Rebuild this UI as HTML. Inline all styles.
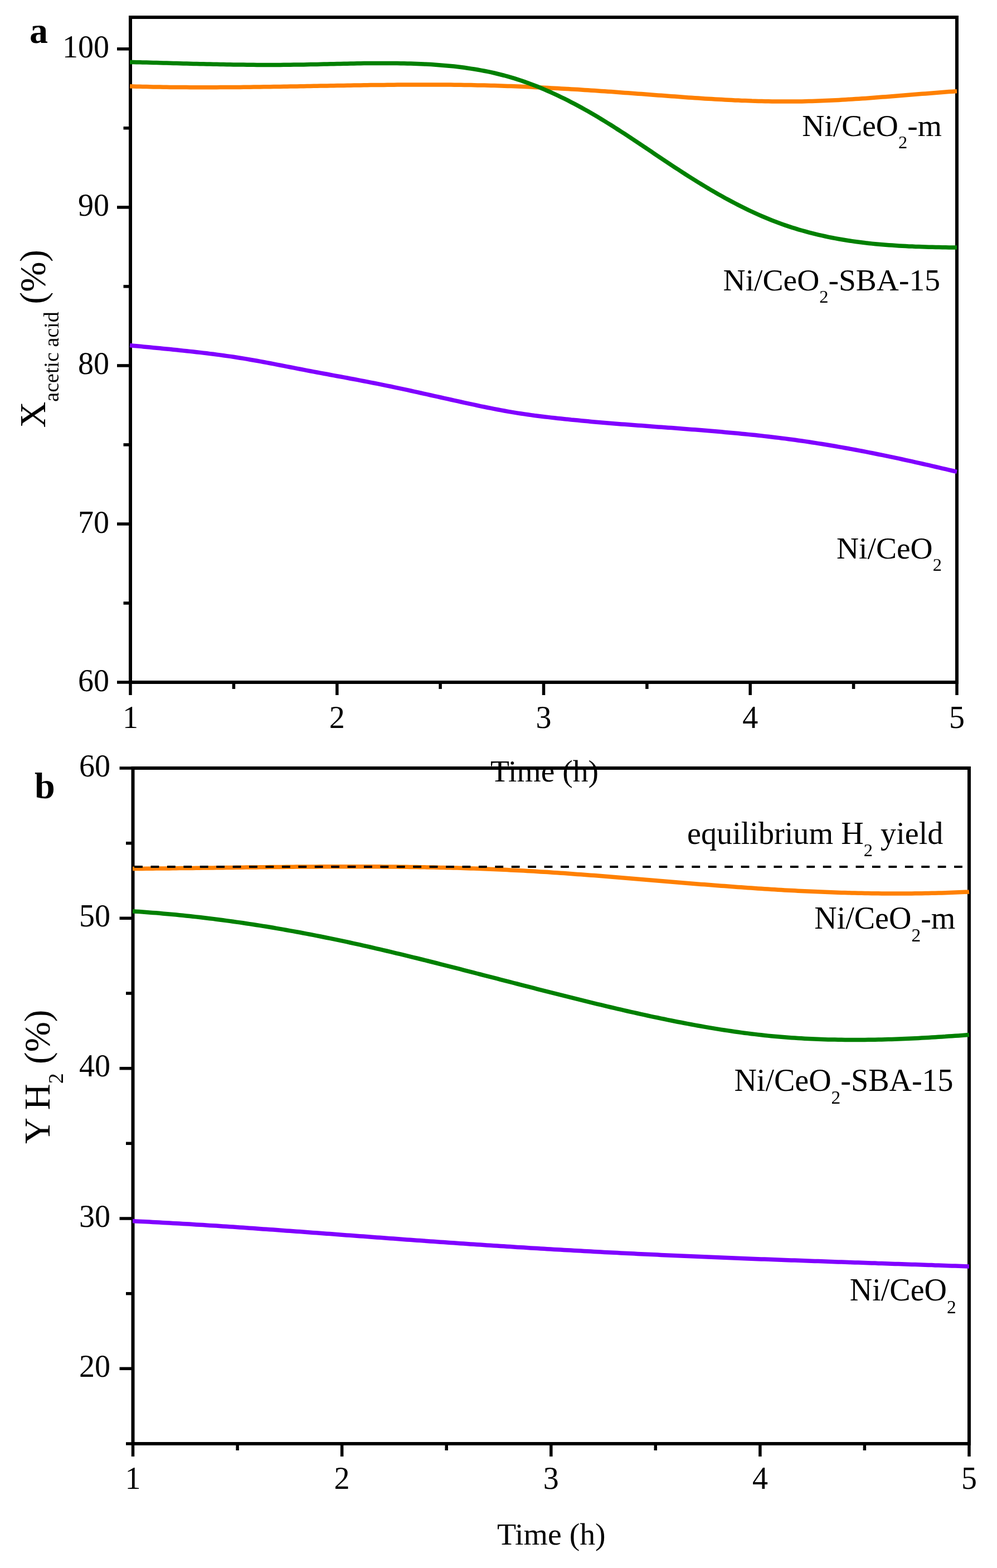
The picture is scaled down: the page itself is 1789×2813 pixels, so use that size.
<!DOCTYPE html>
<html><head><meta charset="utf-8"><title>Figure</title>
<style>html,body{margin:0;padding:0;background:#fff;}svg{display:block;}</style>
</head><body>
<svg width="1789" height="2813" viewBox="0 0 1789 2813" font-family='"Liberation Serif", "Times New Roman", serif'>
<rect width="1789" height="2813" fill="#fff"/>
<rect x="234.0" y="31.0" width="1483.0" height="1193.0" fill="none" stroke="#000" stroke-width="6"/>
<line x1="210.0" y1="1224.0" x2="234.0" y2="1224.0" stroke="#000" stroke-width="5.5"/>
<line x1="210.0" y1="940.0" x2="234.0" y2="940.0" stroke="#000" stroke-width="5.5"/>
<line x1="210.0" y1="655.9" x2="234.0" y2="655.9" stroke="#000" stroke-width="5.5"/>
<line x1="210.0" y1="371.9" x2="234.0" y2="371.9" stroke="#000" stroke-width="5.5"/>
<line x1="210.0" y1="87.8" x2="234.0" y2="87.8" stroke="#000" stroke-width="5.5"/>
<line x1="221.5" y1="1082.0" x2="234.0" y2="1082.0" stroke="#000" stroke-width="5.5"/>
<line x1="221.5" y1="797.9" x2="234.0" y2="797.9" stroke="#000" stroke-width="5.5"/>
<line x1="221.5" y1="513.9" x2="234.0" y2="513.9" stroke="#000" stroke-width="5.5"/>
<line x1="221.5" y1="229.8" x2="234.0" y2="229.8" stroke="#000" stroke-width="5.5"/>
<line x1="234.0" y1="1224.0" x2="234.0" y2="1247.0" stroke="#000" stroke-width="5.5"/>
<line x1="604.8" y1="1224.0" x2="604.8" y2="1247.0" stroke="#000" stroke-width="5.5"/>
<line x1="975.5" y1="1224.0" x2="975.5" y2="1247.0" stroke="#000" stroke-width="5.5"/>
<line x1="1346.2" y1="1224.0" x2="1346.2" y2="1247.0" stroke="#000" stroke-width="5.5"/>
<line x1="1717.0" y1="1224.0" x2="1717.0" y2="1247.0" stroke="#000" stroke-width="5.5"/>
<line x1="419.4" y1="1224.0" x2="419.4" y2="1236.0" stroke="#000" stroke-width="5.5"/>
<line x1="790.1" y1="1224.0" x2="790.1" y2="1236.0" stroke="#000" stroke-width="5.5"/>
<line x1="1160.9" y1="1224.0" x2="1160.9" y2="1236.0" stroke="#000" stroke-width="5.5"/>
<line x1="1531.6" y1="1224.0" x2="1531.6" y2="1236.0" stroke="#000" stroke-width="5.5"/>
<path d="M233.0,154.8 L239.0,155.0 L245.0,155.2 L251.0,155.3 L257.0,155.5 L263.0,155.6 L269.0,155.8 L275.0,155.9 L281.0,156.0 L287.0,156.1 L293.0,156.2 L299.0,156.3 L305.0,156.4 L311.0,156.4 L317.0,156.5 L323.0,156.5 L329.0,156.6 L335.0,156.6 L341.0,156.7 L347.0,156.7 L353.0,156.7 L359.0,156.7 L365.0,156.7 L371.0,156.7 L377.0,156.7 L383.0,156.7 L389.0,156.7 L395.0,156.6 L401.0,156.6 L407.0,156.6 L413.0,156.5 L419.0,156.5 L425.0,156.4 L431.0,156.4 L437.0,156.3 L443.0,156.2 L449.0,156.2 L455.0,156.1 L461.0,156.0 L467.0,155.9 L473.0,155.8 L479.0,155.8 L485.0,155.7 L491.0,155.6 L497.0,155.5 L503.0,155.4 L509.0,155.3 L515.0,155.2 L521.0,155.1 L527.0,155.0 L533.0,154.9 L539.0,154.8 L545.0,154.7 L551.0,154.6 L557.0,154.4 L563.0,154.3 L569.0,154.2 L575.0,154.1 L581.0,154.0 L587.0,153.9 L593.0,153.8 L599.0,153.7 L605.0,153.6 L611.0,153.5 L617.0,153.4 L623.0,153.3 L629.0,153.2 L635.0,153.1 L641.0,153.0 L647.0,152.9 L653.0,152.8 L659.0,152.7 L665.0,152.6 L671.0,152.6 L677.0,152.5 L683.0,152.4 L689.0,152.4 L695.0,152.3 L701.0,152.2 L707.0,152.2 L713.0,152.1 L719.0,152.1 L725.0,152.0 L731.0,152.0 L737.0,152.0 L743.0,152.0 L749.0,151.9 L755.0,151.9 L761.0,151.9 L767.0,151.9 L773.0,151.9 L779.0,151.9 L785.0,152.0 L791.0,152.0 L797.0,152.0 L803.0,152.1 L809.0,152.1 L815.0,152.2 L821.0,152.3 L827.0,152.3 L833.0,152.4 L839.0,152.5 L845.0,152.6 L851.0,152.7 L857.0,152.9 L863.0,153.0 L869.0,153.1 L875.0,153.3 L881.0,153.4 L887.0,153.6 L893.0,153.8 L899.0,154.0 L905.0,154.2 L911.0,154.4 L917.0,154.6 L923.0,154.8 L929.0,155.1 L935.0,155.3 L941.0,155.6 L947.0,155.8 L953.0,156.1 L959.0,156.4 L965.0,156.7 L971.0,157.0 L977.0,157.3 L983.0,157.6 L989.0,157.9 L995.0,158.2 L1001.0,158.5 L1007.0,158.9 L1013.0,159.2 L1019.0,159.6 L1025.0,159.9 L1031.0,160.3 L1037.0,160.6 L1043.0,161.0 L1049.0,161.4 L1055.0,161.8 L1061.0,162.2 L1067.0,162.6 L1073.0,163.0 L1079.0,163.4 L1085.0,163.8 L1091.0,164.2 L1097.0,164.6 L1103.0,165.1 L1109.0,165.5 L1115.0,165.9 L1121.0,166.4 L1127.0,166.8 L1133.0,167.2 L1139.0,167.7 L1145.0,168.2 L1151.0,168.6 L1157.0,169.1 L1163.0,169.5 L1169.0,170.0 L1175.0,170.4 L1181.0,170.9 L1187.0,171.3 L1193.0,171.8 L1199.0,172.2 L1205.0,172.7 L1211.0,173.1 L1217.0,173.6 L1223.0,174.0 L1229.0,174.4 L1235.0,174.9 L1241.0,175.3 L1247.0,175.7 L1253.0,176.1 L1259.0,176.5 L1265.0,176.9 L1271.0,177.2 L1277.0,177.6 L1283.0,178.0 L1289.0,178.3 L1295.0,178.6 L1301.0,179.0 L1307.0,179.3 L1313.0,179.6 L1319.0,179.9 L1325.0,180.1 L1331.0,180.4 L1337.0,180.6 L1343.0,180.8 L1349.0,181.1 L1355.0,181.2 L1361.0,181.4 L1367.0,181.6 L1373.0,181.7 L1379.0,181.8 L1385.0,181.9 L1391.0,182.0 L1397.0,182.1 L1403.0,182.1 L1409.0,182.1 L1415.0,182.1 L1421.0,182.1 L1427.0,182.0 L1433.0,182.0 L1439.0,181.9 L1445.0,181.7 L1451.0,181.6 L1457.0,181.4 L1463.0,181.2 L1469.0,181.0 L1475.0,180.8 L1481.0,180.5 L1487.0,180.3 L1493.0,180.0 L1499.0,179.7 L1505.0,179.4 L1511.0,179.0 L1517.0,178.7 L1523.0,178.3 L1529.0,178.0 L1535.0,177.6 L1541.0,177.2 L1547.0,176.8 L1553.0,176.4 L1559.0,175.9 L1565.0,175.5 L1571.0,175.0 L1577.0,174.6 L1583.0,174.1 L1589.0,173.7 L1595.0,173.2 L1601.0,172.7 L1607.0,172.2 L1613.0,171.8 L1619.0,171.3 L1625.0,170.8 L1631.0,170.3 L1637.0,169.8 L1643.0,169.3 L1649.0,168.8 L1655.0,168.3 L1661.0,167.9 L1667.0,167.4 L1673.0,166.9 L1679.0,166.4 L1685.0,166.0 L1691.0,165.5 L1697.0,165.1 L1703.0,164.6 L1709.0,164.2 L1715.0,163.8 L1717.0,163.6" fill="none" stroke="#ff8000" stroke-width="7.5" stroke-linejoin="round"/>
<path d="M233.0,111.4 L239.0,111.5 L245.0,111.7 L251.0,111.8 L257.0,112.0 L263.0,112.1 L269.0,112.3 L275.0,112.4 L281.0,112.6 L287.0,112.8 L293.0,112.9 L299.0,113.1 L305.0,113.2 L311.0,113.4 L317.0,113.6 L323.0,113.7 L329.0,113.9 L335.0,114.0 L341.0,114.2 L347.0,114.4 L353.0,114.5 L359.0,114.7 L365.0,114.8 L371.0,114.9 L377.0,115.1 L383.0,115.2 L389.0,115.3 L395.0,115.5 L401.0,115.6 L407.0,115.7 L413.0,115.8 L419.0,115.9 L425.0,116.0 L431.0,116.1 L437.0,116.1 L443.0,116.2 L449.0,116.3 L455.0,116.3 L461.0,116.4 L467.0,116.4 L473.0,116.4 L479.0,116.4 L485.0,116.4 L491.0,116.4 L497.0,116.4 L503.0,116.4 L509.0,116.3 L515.0,116.3 L521.0,116.2 L527.0,116.1 L533.0,116.1 L539.0,116.0 L545.0,115.9 L551.0,115.7 L557.0,115.6 L563.0,115.5 L569.0,115.4 L575.0,115.2 L581.0,115.1 L587.0,115.0 L593.0,114.8 L599.0,114.7 L605.0,114.5 L611.0,114.4 L617.0,114.3 L623.0,114.2 L629.0,114.0 L635.0,113.9 L641.0,113.8 L647.0,113.7 L653.0,113.6 L659.0,113.6 L665.0,113.5 L671.0,113.5 L677.0,113.4 L683.0,113.4 L689.0,113.4 L695.0,113.4 L701.0,113.4 L707.0,113.5 L713.0,113.6 L719.0,113.7 L725.0,113.8 L731.0,113.9 L737.0,114.1 L743.0,114.3 L749.0,114.5 L755.0,114.7 L761.0,115.0 L767.0,115.3 L773.0,115.6 L779.0,116.0 L785.0,116.4 L791.0,116.9 L797.0,117.4 L803.0,117.9 L809.0,118.5 L815.0,119.1 L821.0,119.8 L827.0,120.5 L833.0,121.3 L839.0,122.2 L845.0,123.1 L851.0,124.0 L857.0,125.0 L863.0,126.1 L869.0,127.2 L875.0,128.4 L881.0,129.7 L887.0,131.0 L893.0,132.5 L899.0,134.0 L905.0,135.5 L911.0,137.2 L917.0,138.9 L923.0,140.7 L929.0,142.6 L935.0,144.5 L941.0,146.6 L947.0,148.7 L953.0,150.9 L959.0,153.2 L965.0,155.6 L971.0,158.0 L977.0,160.6 L983.0,163.2 L989.0,165.8 L995.0,168.6 L1001.0,171.4 L1007.0,174.3 L1013.0,177.2 L1019.0,180.2 L1025.0,183.3 L1031.0,186.4 L1037.0,189.6 L1043.0,192.9 L1049.0,196.2 L1055.0,199.6 L1061.0,203.1 L1067.0,206.6 L1073.0,210.1 L1079.0,213.7 L1085.0,217.4 L1091.0,221.1 L1097.0,224.8 L1103.0,228.6 L1109.0,232.5 L1115.0,236.3 L1121.0,240.2 L1127.0,244.2 L1133.0,248.1 L1139.0,252.1 L1145.0,256.1 L1151.0,260.1 L1157.0,264.2 L1163.0,268.2 L1169.0,272.2 L1175.0,276.3 L1181.0,280.3 L1187.0,284.3 L1193.0,288.3 L1199.0,292.3 L1205.0,296.3 L1211.0,300.3 L1217.0,304.2 L1223.0,308.1 L1229.0,312.0 L1235.0,315.9 L1241.0,319.7 L1247.0,323.4 L1253.0,327.1 L1259.0,330.8 L1265.0,334.4 L1271.0,338.0 L1277.0,341.6 L1283.0,345.0 L1289.0,348.5 L1295.0,351.8 L1301.0,355.2 L1307.0,358.4 L1313.0,361.6 L1319.0,364.8 L1325.0,367.9 L1331.0,370.9 L1337.0,373.9 L1343.0,376.8 L1349.0,379.6 L1355.0,382.4 L1361.0,385.1 L1367.0,387.7 L1373.0,390.3 L1379.0,392.8 L1385.0,395.2 L1391.0,397.5 L1397.0,399.8 L1403.0,402.0 L1409.0,404.1 L1415.0,406.1 L1421.0,408.1 L1427.0,409.9 L1433.0,411.8 L1439.0,413.5 L1445.0,415.2 L1451.0,416.8 L1457.0,418.4 L1463.0,419.9 L1469.0,421.3 L1475.0,422.7 L1481.0,424.0 L1487.0,425.3 L1493.0,426.5 L1499.0,427.6 L1505.0,428.7 L1511.0,429.8 L1517.0,430.8 L1523.0,431.7 L1529.0,432.6 L1535.0,433.5 L1541.0,434.3 L1547.0,435.0 L1553.0,435.8 L1559.0,436.4 L1565.0,437.1 L1571.0,437.7 L1577.0,438.2 L1583.0,438.8 L1589.0,439.3 L1595.0,439.7 L1601.0,440.1 L1607.0,440.5 L1613.0,440.9 L1619.0,441.3 L1625.0,441.6 L1631.0,441.9 L1637.0,442.1 L1643.0,442.4 L1649.0,442.6 L1655.0,442.8 L1661.0,443.0 L1667.0,443.2 L1673.0,443.3 L1679.0,443.5 L1685.0,443.6 L1691.0,443.7 L1697.0,443.8 L1703.0,443.9 L1709.0,444.0 L1715.0,444.1 L1717.0,444.1" fill="none" stroke="#008000" stroke-width="7.5" stroke-linejoin="round"/>
<path d="M233.0,619.6 L239.0,620.2 L245.0,620.8 L251.0,621.3 L257.0,621.9 L263.0,622.5 L269.0,623.1 L275.0,623.7 L281.0,624.2 L287.0,624.8 L293.0,625.4 L299.0,626.0 L305.0,626.6 L311.0,627.2 L317.0,627.8 L323.0,628.4 L329.0,629.1 L335.0,629.7 L341.0,630.4 L347.0,631.0 L353.0,631.7 L359.0,632.4 L365.0,633.1 L371.0,633.8 L377.0,634.6 L383.0,635.3 L389.0,636.1 L395.0,636.9 L401.0,637.7 L407.0,638.6 L413.0,639.4 L419.0,640.3 L425.0,641.2 L431.0,642.2 L437.0,643.1 L443.0,644.1 L449.0,645.2 L455.0,646.2 L461.0,647.3 L467.0,648.4 L473.0,649.5 L479.0,650.6 L485.0,651.8 L491.0,652.9 L497.0,654.1 L503.0,655.2 L509.0,656.4 L515.0,657.6 L521.0,658.8 L527.0,659.9 L533.0,661.1 L539.0,662.3 L545.0,663.4 L551.0,664.6 L557.0,665.7 L563.0,666.9 L569.0,668.0 L575.0,669.1 L581.0,670.2 L587.0,671.3 L593.0,672.5 L599.0,673.6 L605.0,674.7 L611.0,675.8 L617.0,676.9 L623.0,678.0 L629.0,679.2 L635.0,680.3 L641.0,681.4 L647.0,682.6 L653.0,683.7 L659.0,684.9 L665.0,686.1 L671.0,687.2 L677.0,688.4 L683.0,689.6 L689.0,690.9 L695.0,692.1 L701.0,693.3 L707.0,694.6 L713.0,695.9 L719.0,697.1 L725.0,698.4 L731.0,699.7 L737.0,701.0 L743.0,702.3 L749.0,703.6 L755.0,705.0 L761.0,706.3 L767.0,707.6 L773.0,709.0 L779.0,710.3 L785.0,711.6 L791.0,713.0 L797.0,714.3 L803.0,715.7 L809.0,717.0 L815.0,718.3 L821.0,719.7 L827.0,721.0 L833.0,722.3 L839.0,723.6 L845.0,724.9 L851.0,726.2 L857.0,727.5 L863.0,728.8 L869.0,730.0 L875.0,731.2 L881.0,732.4 L887.0,733.6 L893.0,734.8 L899.0,735.9 L905.0,737.0 L911.0,738.1 L917.0,739.1 L923.0,740.1 L929.0,741.1 L935.0,742.0 L941.0,742.9 L947.0,743.8 L953.0,744.6 L959.0,745.5 L965.0,746.2 L971.0,747.0 L977.0,747.7 L983.0,748.4 L989.0,749.1 L995.0,749.8 L1001.0,750.5 L1007.0,751.1 L1013.0,751.7 L1019.0,752.3 L1025.0,753.0 L1031.0,753.5 L1037.0,754.1 L1043.0,754.7 L1049.0,755.3 L1055.0,755.8 L1061.0,756.4 L1067.0,756.9 L1073.0,757.4 L1079.0,757.9 L1085.0,758.4 L1091.0,758.9 L1097.0,759.4 L1103.0,759.9 L1109.0,760.4 L1115.0,760.9 L1121.0,761.3 L1127.0,761.8 L1133.0,762.3 L1139.0,762.7 L1145.0,763.2 L1151.0,763.6 L1157.0,764.1 L1163.0,764.5 L1169.0,765.0 L1175.0,765.4 L1181.0,765.9 L1187.0,766.3 L1193.0,766.7 L1199.0,767.2 L1205.0,767.6 L1211.0,768.1 L1217.0,768.5 L1223.0,769.0 L1229.0,769.5 L1235.0,769.9 L1241.0,770.4 L1247.0,770.8 L1253.0,771.3 L1259.0,771.8 L1265.0,772.3 L1271.0,772.8 L1277.0,773.3 L1283.0,773.8 L1289.0,774.3 L1295.0,774.8 L1301.0,775.4 L1307.0,775.9 L1313.0,776.4 L1319.0,777.0 L1325.0,777.6 L1331.0,778.2 L1337.0,778.7 L1343.0,779.4 L1349.0,780.0 L1355.0,780.6 L1361.0,781.2 L1367.0,781.9 L1373.0,782.6 L1379.0,783.3 L1385.0,784.0 L1391.0,784.7 L1397.0,785.4 L1403.0,786.2 L1409.0,786.9 L1415.0,787.7 L1421.0,788.5 L1427.0,789.3 L1433.0,790.2 L1439.0,791.0 L1445.0,791.9 L1451.0,792.8 L1457.0,793.7 L1463.0,794.6 L1469.0,795.6 L1475.0,796.5 L1481.0,797.5 L1487.0,798.5 L1493.0,799.5 L1499.0,800.5 L1505.0,801.6 L1511.0,802.6 L1517.0,803.7 L1523.0,804.8 L1529.0,805.9 L1535.0,807.0 L1541.0,808.1 L1547.0,809.3 L1553.0,810.4 L1559.0,811.6 L1565.0,812.8 L1571.0,814.0 L1577.0,815.2 L1583.0,816.4 L1589.0,817.7 L1595.0,818.9 L1601.0,820.2 L1607.0,821.4 L1613.0,822.7 L1619.0,824.0 L1625.0,825.3 L1631.0,826.6 L1637.0,827.9 L1643.0,829.3 L1649.0,830.6 L1655.0,832.0 L1661.0,833.3 L1667.0,834.7 L1673.0,836.1 L1679.0,837.5 L1685.0,838.9 L1691.0,840.3 L1697.0,841.7 L1703.0,843.1 L1709.0,844.5 L1715.0,845.9 L1717.0,846.4" fill="none" stroke="#8000ff" stroke-width="7.5" stroke-linejoin="round"/>
<text x="196.0" y="1239.5" font-size="56.0" text-anchor="end" font-weight="normal">60</text>
<text x="196.0" y="955.5" font-size="56.0" text-anchor="end" font-weight="normal">70</text>
<text x="196.0" y="671.4" font-size="56.0" text-anchor="end" font-weight="normal">80</text>
<text x="196.0" y="387.4" font-size="56.0" text-anchor="end" font-weight="normal">90</text>
<text x="196.0" y="103.3" font-size="56.0" text-anchor="end" font-weight="normal">100</text>
<text x="234.0" y="1305.5" font-size="56.0" text-anchor="middle" font-weight="normal">1</text>
<text x="604.8" y="1305.5" font-size="56.0" text-anchor="middle" font-weight="normal">2</text>
<text x="975.5" y="1305.5" font-size="56.0" text-anchor="middle" font-weight="normal">3</text>
<text x="1346.2" y="1305.5" font-size="56.0" text-anchor="middle" font-weight="normal">4</text>
<text x="1717.0" y="1305.5" font-size="56.0" text-anchor="middle" font-weight="normal">5</text>
<text x="53.0" y="77.0" font-size="66.0" text-anchor="start" font-weight="bold">a</text>
<text x="977.0" y="1402.0" font-size="55.5" text-anchor="middle" font-weight="normal">Time (h)</text>
<text transform="translate(81,767.6) rotate(-90)" font-size="65">X<tspan font-size="38" dy="24">acetic acid</tspan><tspan dy="-24" dx="-2.4"> (%)</tspan></text>
<text x="1439.3" y="244.0" font-size="55.5">Ni/CeO<tspan font-size="32.5" dy="21.5">2</tspan><tspan dy="-21.5">-m</tspan></text>
<text x="1297.6" y="521.0" font-size="55.5">Ni/CeO<tspan font-size="32.5" dy="21.5">2</tspan><tspan dy="-21.5">-SBA-15</tspan></text>
<text x="1501.0" y="1002.0" font-size="55.5">Ni/CeO<tspan font-size="32.5" dy="21.5">2</tspan></text>
<rect x="238.5" y="1378.0" width="1500.5" height="1212.0" fill="none" stroke="#000" stroke-width="6"/>
<line x1="214.5" y1="2455.3" x2="238.5" y2="2455.3" stroke="#000" stroke-width="5.5"/>
<line x1="214.5" y1="2186.0" x2="238.5" y2="2186.0" stroke="#000" stroke-width="5.5"/>
<line x1="214.5" y1="1916.7" x2="238.5" y2="1916.7" stroke="#000" stroke-width="5.5"/>
<line x1="214.5" y1="1647.3" x2="238.5" y2="1647.3" stroke="#000" stroke-width="5.5"/>
<line x1="214.5" y1="1378.0" x2="238.5" y2="1378.0" stroke="#000" stroke-width="5.5"/>
<line x1="226.0" y1="2590.0" x2="238.5" y2="2590.0" stroke="#000" stroke-width="5.5"/>
<line x1="226.0" y1="2320.7" x2="238.5" y2="2320.7" stroke="#000" stroke-width="5.5"/>
<line x1="226.0" y1="2051.3" x2="238.5" y2="2051.3" stroke="#000" stroke-width="5.5"/>
<line x1="226.0" y1="1782.0" x2="238.5" y2="1782.0" stroke="#000" stroke-width="5.5"/>
<line x1="226.0" y1="1512.7" x2="238.5" y2="1512.7" stroke="#000" stroke-width="5.5"/>
<line x1="238.5" y1="2590.0" x2="238.5" y2="2613.0" stroke="#000" stroke-width="5.5"/>
<line x1="613.6" y1="2590.0" x2="613.6" y2="2613.0" stroke="#000" stroke-width="5.5"/>
<line x1="988.8" y1="2590.0" x2="988.8" y2="2613.0" stroke="#000" stroke-width="5.5"/>
<line x1="1363.9" y1="2590.0" x2="1363.9" y2="2613.0" stroke="#000" stroke-width="5.5"/>
<line x1="1739.0" y1="2590.0" x2="1739.0" y2="2613.0" stroke="#000" stroke-width="5.5"/>
<line x1="426.1" y1="2590.0" x2="426.1" y2="2602.0" stroke="#000" stroke-width="5.5"/>
<line x1="801.2" y1="2590.0" x2="801.2" y2="2602.0" stroke="#000" stroke-width="5.5"/>
<line x1="1176.3" y1="2590.0" x2="1176.3" y2="2602.0" stroke="#000" stroke-width="5.5"/>
<line x1="1551.4" y1="2590.0" x2="1551.4" y2="2602.0" stroke="#000" stroke-width="5.5"/>
<path d="M238.0,1558.5 L244.0,1558.5 L250.0,1558.4 L256.0,1558.4 L262.0,1558.3 L268.0,1558.2 L274.0,1558.2 L280.0,1558.1 L286.0,1558.1 L292.0,1558.0 L298.0,1557.9 L304.0,1557.9 L310.0,1557.8 L316.0,1557.7 L322.0,1557.6 L328.0,1557.6 L334.0,1557.5 L340.0,1557.4 L346.0,1557.4 L352.0,1557.3 L358.0,1557.2 L364.0,1557.1 L370.0,1557.0 L376.0,1557.0 L382.0,1556.9 L388.0,1556.8 L394.0,1556.7 L400.0,1556.7 L406.0,1556.6 L412.0,1556.5 L418.0,1556.4 L424.0,1556.3 L430.0,1556.3 L436.0,1556.2 L442.0,1556.1 L448.0,1556.0 L454.0,1556.0 L460.0,1555.9 L466.0,1555.8 L472.0,1555.8 L478.0,1555.7 L484.0,1555.6 L490.0,1555.6 L496.0,1555.5 L502.0,1555.4 L508.0,1555.4 L514.0,1555.3 L520.0,1555.2 L526.0,1555.2 L532.0,1555.1 L538.0,1555.1 L544.0,1555.0 L550.0,1555.0 L556.0,1555.0 L562.0,1554.9 L568.0,1554.9 L574.0,1554.8 L580.0,1554.8 L586.0,1554.8 L592.0,1554.8 L598.0,1554.7 L604.0,1554.7 L610.0,1554.7 L616.0,1554.7 L622.0,1554.7 L628.0,1554.7 L634.0,1554.7 L640.0,1554.7 L646.0,1554.7 L652.0,1554.7 L658.0,1554.7 L664.0,1554.8 L670.0,1554.8 L676.0,1554.8 L682.0,1554.8 L688.0,1554.9 L694.0,1554.9 L700.0,1555.0 L706.0,1555.0 L712.0,1555.1 L718.0,1555.2 L724.0,1555.2 L730.0,1555.3 L736.0,1555.4 L742.0,1555.5 L748.0,1555.6 L754.0,1555.7 L760.0,1555.8 L766.0,1555.9 L772.0,1556.0 L778.0,1556.1 L784.0,1556.2 L790.0,1556.4 L796.0,1556.5 L802.0,1556.7 L808.0,1556.8 L814.0,1557.0 L820.0,1557.1 L826.0,1557.3 L832.0,1557.5 L838.0,1557.7 L844.0,1557.9 L850.0,1558.1 L856.0,1558.3 L862.0,1558.5 L868.0,1558.8 L874.0,1559.0 L880.0,1559.2 L886.0,1559.5 L892.0,1559.7 L898.0,1560.0 L904.0,1560.3 L910.0,1560.6 L916.0,1560.9 L922.0,1561.2 L928.0,1561.5 L934.0,1561.8 L940.0,1562.1 L946.0,1562.4 L952.0,1562.8 L958.0,1563.1 L964.0,1563.5 L970.0,1563.9 L976.0,1564.2 L982.0,1564.6 L988.0,1565.0 L994.0,1565.4 L1000.0,1565.8 L1006.0,1566.2 L1012.0,1566.6 L1018.0,1567.1 L1024.0,1567.5 L1030.0,1567.9 L1036.0,1568.4 L1042.0,1568.8 L1048.0,1569.3 L1054.0,1569.7 L1060.0,1570.2 L1066.0,1570.6 L1072.0,1571.1 L1078.0,1571.6 L1084.0,1572.0 L1090.0,1572.5 L1096.0,1573.0 L1102.0,1573.5 L1108.0,1574.0 L1114.0,1574.5 L1120.0,1574.9 L1126.0,1575.4 L1132.0,1575.9 L1138.0,1576.4 L1144.0,1576.9 L1150.0,1577.4 L1156.0,1577.9 L1162.0,1578.4 L1168.0,1578.9 L1174.0,1579.4 L1180.0,1579.9 L1186.0,1580.4 L1192.0,1580.9 L1198.0,1581.4 L1204.0,1581.9 L1210.0,1582.4 L1216.0,1582.9 L1222.0,1583.4 L1228.0,1583.9 L1234.0,1584.4 L1240.0,1584.9 L1246.0,1585.4 L1252.0,1585.9 L1258.0,1586.4 L1264.0,1586.8 L1270.0,1587.3 L1276.0,1587.8 L1282.0,1588.2 L1288.0,1588.7 L1294.0,1589.2 L1300.0,1589.6 L1306.0,1590.1 L1312.0,1590.5 L1318.0,1591.0 L1324.0,1591.4 L1330.0,1591.8 L1336.0,1592.3 L1342.0,1592.7 L1348.0,1593.1 L1354.0,1593.5 L1360.0,1593.9 L1366.0,1594.3 L1372.0,1594.7 L1378.0,1595.1 L1384.0,1595.4 L1390.0,1595.8 L1396.0,1596.2 L1402.0,1596.5 L1408.0,1596.9 L1414.0,1597.2 L1420.0,1597.5 L1426.0,1597.8 L1432.0,1598.2 L1438.0,1598.5 L1444.0,1598.7 L1450.0,1599.0 L1456.0,1599.3 L1462.0,1599.6 L1468.0,1599.8 L1474.0,1600.1 L1480.0,1600.3 L1486.0,1600.6 L1492.0,1600.8 L1498.0,1601.0 L1504.0,1601.2 L1510.0,1601.4 L1516.0,1601.6 L1522.0,1601.7 L1528.0,1601.9 L1534.0,1602.1 L1540.0,1602.2 L1546.0,1602.3 L1552.0,1602.5 L1558.0,1602.6 L1564.0,1602.7 L1570.0,1602.7 L1576.0,1602.8 L1582.0,1602.9 L1588.0,1602.9 L1594.0,1603.0 L1600.0,1603.0 L1606.0,1603.0 L1612.0,1603.0 L1618.0,1603.0 L1624.0,1603.0 L1630.0,1602.9 L1636.0,1602.9 L1642.0,1602.8 L1648.0,1602.8 L1654.0,1602.7 L1660.0,1602.6 L1666.0,1602.5 L1672.0,1602.3 L1678.0,1602.2 L1684.0,1602.0 L1690.0,1601.9 L1696.0,1601.7 L1702.0,1601.5 L1708.0,1601.3 L1714.0,1601.1 L1720.0,1600.8 L1726.0,1600.6 L1732.0,1600.3 L1738.0,1600.0 L1739.0,1599.9" fill="none" stroke="#ff8000" stroke-width="7.5" stroke-linejoin="round"/>
<path d="M238.0,1634.8 L244.0,1635.2 L250.0,1635.6 L256.0,1636.0 L262.0,1636.4 L268.0,1636.9 L274.0,1637.4 L280.0,1637.8 L286.0,1638.3 L292.0,1638.9 L298.0,1639.4 L304.0,1639.9 L310.0,1640.5 L316.0,1641.1 L322.0,1641.7 L328.0,1642.3 L334.0,1642.9 L340.0,1643.5 L346.0,1644.2 L352.0,1644.9 L358.0,1645.5 L364.0,1646.2 L370.0,1647.0 L376.0,1647.7 L382.0,1648.4 L388.0,1649.2 L394.0,1650.0 L400.0,1650.8 L406.0,1651.6 L412.0,1652.4 L418.0,1653.2 L424.0,1654.1 L430.0,1654.9 L436.0,1655.8 L442.0,1656.7 L448.0,1657.6 L454.0,1658.5 L460.0,1659.5 L466.0,1660.4 L472.0,1661.4 L478.0,1662.3 L484.0,1663.3 L490.0,1664.3 L496.0,1665.4 L502.0,1666.4 L508.0,1667.4 L514.0,1668.5 L520.0,1669.6 L526.0,1670.6 L532.0,1671.7 L538.0,1672.8 L544.0,1674.0 L550.0,1675.1 L556.0,1676.2 L562.0,1677.4 L568.0,1678.6 L574.0,1679.8 L580.0,1681.0 L586.0,1682.2 L592.0,1683.4 L598.0,1684.6 L604.0,1685.9 L610.0,1687.1 L616.0,1688.4 L622.0,1689.7 L628.0,1691.0 L634.0,1692.3 L640.0,1693.6 L646.0,1694.9 L652.0,1696.3 L658.0,1697.6 L664.0,1699.0 L670.0,1700.4 L676.0,1701.8 L682.0,1703.2 L688.0,1704.6 L694.0,1706.0 L700.0,1707.4 L706.0,1708.8 L712.0,1710.3 L718.0,1711.7 L724.0,1713.2 L730.0,1714.6 L736.0,1716.1 L742.0,1717.6 L748.0,1719.0 L754.0,1720.5 L760.0,1722.0 L766.0,1723.5 L772.0,1725.0 L778.0,1726.5 L784.0,1728.0 L790.0,1729.6 L796.0,1731.1 L802.0,1732.6 L808.0,1734.1 L814.0,1735.7 L820.0,1737.2 L826.0,1738.7 L832.0,1740.3 L838.0,1741.8 L844.0,1743.4 L850.0,1744.9 L856.0,1746.5 L862.0,1748.0 L868.0,1749.6 L874.0,1751.1 L880.0,1752.7 L886.0,1754.2 L892.0,1755.7 L898.0,1757.3 L904.0,1758.8 L910.0,1760.4 L916.0,1761.9 L922.0,1763.5 L928.0,1765.0 L934.0,1766.6 L940.0,1768.1 L946.0,1769.7 L952.0,1771.2 L958.0,1772.7 L964.0,1774.3 L970.0,1775.8 L976.0,1777.3 L982.0,1778.9 L988.0,1780.4 L994.0,1781.9 L1000.0,1783.4 L1006.0,1784.9 L1012.0,1786.4 L1018.0,1787.9 L1024.0,1789.4 L1030.0,1790.9 L1036.0,1792.4 L1042.0,1793.9 L1048.0,1795.4 L1054.0,1796.9 L1060.0,1798.3 L1066.0,1799.8 L1072.0,1801.3 L1078.0,1802.7 L1084.0,1804.1 L1090.0,1805.6 L1096.0,1807.0 L1102.0,1808.4 L1108.0,1809.8 L1114.0,1811.2 L1120.0,1812.6 L1126.0,1814.0 L1132.0,1815.3 L1138.0,1816.7 L1144.0,1818.0 L1150.0,1819.4 L1156.0,1820.7 L1162.0,1822.0 L1168.0,1823.3 L1174.0,1824.6 L1180.0,1825.8 L1186.0,1827.1 L1192.0,1828.3 L1198.0,1829.6 L1204.0,1830.8 L1210.0,1832.0 L1216.0,1833.2 L1222.0,1834.3 L1228.0,1835.5 L1234.0,1836.6 L1240.0,1837.8 L1246.0,1838.9 L1252.0,1840.0 L1258.0,1841.0 L1264.0,1842.1 L1270.0,1843.1 L1276.0,1844.1 L1282.0,1845.1 L1288.0,1846.1 L1294.0,1847.1 L1300.0,1848.0 L1306.0,1848.9 L1312.0,1849.8 L1318.0,1850.7 L1324.0,1851.5 L1330.0,1852.4 L1336.0,1853.2 L1342.0,1853.9 L1348.0,1854.7 L1354.0,1855.4 L1360.0,1856.1 L1366.0,1856.8 L1372.0,1857.4 L1378.0,1858.1 L1384.0,1858.7 L1390.0,1859.2 L1396.0,1859.8 L1402.0,1860.3 L1408.0,1860.8 L1414.0,1861.2 L1420.0,1861.7 L1426.0,1862.1 L1432.0,1862.5 L1438.0,1862.8 L1444.0,1863.2 L1450.0,1863.5 L1456.0,1863.8 L1462.0,1864.0 L1468.0,1864.3 L1474.0,1864.5 L1480.0,1864.7 L1486.0,1864.9 L1492.0,1865.0 L1498.0,1865.1 L1504.0,1865.2 L1510.0,1865.3 L1516.0,1865.4 L1522.0,1865.5 L1528.0,1865.5 L1534.0,1865.5 L1540.0,1865.5 L1546.0,1865.5 L1552.0,1865.4 L1558.0,1865.3 L1564.0,1865.3 L1570.0,1865.2 L1576.0,1865.0 L1582.0,1864.9 L1588.0,1864.8 L1594.0,1864.6 L1600.0,1864.4 L1606.0,1864.2 L1612.0,1864.0 L1618.0,1863.8 L1624.0,1863.5 L1630.0,1863.2 L1636.0,1863.0 L1642.0,1862.7 L1648.0,1862.4 L1654.0,1862.1 L1660.0,1861.8 L1666.0,1861.4 L1672.0,1861.1 L1678.0,1860.7 L1684.0,1860.3 L1690.0,1859.9 L1696.0,1859.6 L1702.0,1859.1 L1708.0,1858.7 L1714.0,1858.3 L1720.0,1857.9 L1726.0,1857.4 L1732.0,1857.0 L1738.0,1856.5 L1739.0,1856.4" fill="none" stroke="#008000" stroke-width="7.5" stroke-linejoin="round"/>
<path d="M238.0,2190.6 L244.0,2190.9 L250.0,2191.2 L256.0,2191.5 L262.0,2191.8 L268.0,2192.1 L274.0,2192.4 L280.0,2192.7 L286.0,2193.0 L292.0,2193.4 L298.0,2193.7 L304.0,2194.0 L310.0,2194.4 L316.0,2194.7 L322.0,2195.1 L328.0,2195.4 L334.0,2195.8 L340.0,2196.1 L346.0,2196.5 L352.0,2196.9 L358.0,2197.2 L364.0,2197.6 L370.0,2198.0 L376.0,2198.4 L382.0,2198.8 L388.0,2199.1 L394.0,2199.5 L400.0,2199.9 L406.0,2200.3 L412.0,2200.7 L418.0,2201.1 L424.0,2201.5 L430.0,2201.9 L436.0,2202.3 L442.0,2202.8 L448.0,2203.2 L454.0,2203.6 L460.0,2204.0 L466.0,2204.4 L472.0,2204.9 L478.0,2205.3 L484.0,2205.7 L490.0,2206.1 L496.0,2206.6 L502.0,2207.0 L508.0,2207.4 L514.0,2207.9 L520.0,2208.3 L526.0,2208.7 L532.0,2209.2 L538.0,2209.6 L544.0,2210.1 L550.0,2210.5 L556.0,2210.9 L562.0,2211.4 L568.0,2211.8 L574.0,2212.3 L580.0,2212.7 L586.0,2213.2 L592.0,2213.6 L598.0,2214.1 L604.0,2214.5 L610.0,2215.0 L616.0,2215.4 L622.0,2215.9 L628.0,2216.3 L634.0,2216.8 L640.0,2217.2 L646.0,2217.7 L652.0,2218.1 L658.0,2218.5 L664.0,2219.0 L670.0,2219.4 L676.0,2219.9 L682.0,2220.3 L688.0,2220.8 L694.0,2221.2 L700.0,2221.7 L706.0,2222.1 L712.0,2222.5 L718.0,2223.0 L724.0,2223.4 L730.0,2223.9 L736.0,2224.3 L742.0,2224.7 L748.0,2225.2 L754.0,2225.6 L760.0,2226.0 L766.0,2226.5 L772.0,2226.9 L778.0,2227.3 L784.0,2227.7 L790.0,2228.2 L796.0,2228.6 L802.0,2229.0 L808.0,2229.4 L814.0,2229.8 L820.0,2230.2 L826.0,2230.7 L832.0,2231.1 L838.0,2231.5 L844.0,2231.9 L850.0,2232.3 L856.0,2232.7 L862.0,2233.1 L868.0,2233.5 L874.0,2233.9 L880.0,2234.3 L886.0,2234.7 L892.0,2235.1 L898.0,2235.5 L904.0,2235.8 L910.0,2236.2 L916.0,2236.6 L922.0,2237.0 L928.0,2237.4 L934.0,2237.7 L940.0,2238.1 L946.0,2238.5 L952.0,2238.9 L958.0,2239.2 L964.0,2239.6 L970.0,2240.0 L976.0,2240.3 L982.0,2240.7 L988.0,2241.0 L994.0,2241.4 L1000.0,2241.7 L1006.0,2242.1 L1012.0,2242.4 L1018.0,2242.8 L1024.0,2243.1 L1030.0,2243.5 L1036.0,2243.8 L1042.0,2244.1 L1048.0,2244.5 L1054.0,2244.8 L1060.0,2245.1 L1066.0,2245.4 L1072.0,2245.8 L1078.0,2246.1 L1084.0,2246.4 L1090.0,2246.7 L1096.0,2247.0 L1102.0,2247.3 L1108.0,2247.6 L1114.0,2247.9 L1120.0,2248.2 L1126.0,2248.5 L1132.0,2248.8 L1138.0,2249.1 L1144.0,2249.4 L1150.0,2249.7 L1156.0,2250.0 L1162.0,2250.3 L1168.0,2250.6 L1174.0,2250.8 L1180.0,2251.1 L1186.0,2251.4 L1192.0,2251.7 L1198.0,2251.9 L1204.0,2252.2 L1210.0,2252.5 L1216.0,2252.8 L1222.0,2253.0 L1228.0,2253.3 L1234.0,2253.5 L1240.0,2253.8 L1246.0,2254.1 L1252.0,2254.3 L1258.0,2254.6 L1264.0,2254.8 L1270.0,2255.1 L1276.0,2255.3 L1282.0,2255.6 L1288.0,2255.8 L1294.0,2256.1 L1300.0,2256.3 L1306.0,2256.5 L1312.0,2256.8 L1318.0,2257.0 L1324.0,2257.3 L1330.0,2257.5 L1336.0,2257.7 L1342.0,2258.0 L1348.0,2258.2 L1354.0,2258.4 L1360.0,2258.7 L1366.0,2258.9 L1372.0,2259.1 L1378.0,2259.3 L1384.0,2259.6 L1390.0,2259.8 L1396.0,2260.0 L1402.0,2260.2 L1408.0,2260.4 L1414.0,2260.7 L1420.0,2260.9 L1426.0,2261.1 L1432.0,2261.3 L1438.0,2261.5 L1444.0,2261.8 L1450.0,2262.0 L1456.0,2262.2 L1462.0,2262.4 L1468.0,2262.6 L1474.0,2262.8 L1480.0,2263.0 L1486.0,2263.2 L1492.0,2263.5 L1498.0,2263.7 L1504.0,2263.9 L1510.0,2264.1 L1516.0,2264.3 L1522.0,2264.5 L1528.0,2264.7 L1534.0,2264.9 L1540.0,2265.1 L1546.0,2265.3 L1552.0,2265.5 L1558.0,2265.7 L1564.0,2265.9 L1570.0,2266.1 L1576.0,2266.4 L1582.0,2266.6 L1588.0,2266.8 L1594.0,2267.0 L1600.0,2267.2 L1606.0,2267.4 L1612.0,2267.6 L1618.0,2267.8 L1624.0,2268.0 L1630.0,2268.2 L1636.0,2268.4 L1642.0,2268.6 L1648.0,2268.8 L1654.0,2269.0 L1660.0,2269.2 L1666.0,2269.4 L1672.0,2269.6 L1678.0,2269.9 L1684.0,2270.1 L1690.0,2270.3 L1696.0,2270.5 L1702.0,2270.7 L1708.0,2270.9 L1714.0,2271.1 L1720.0,2271.3 L1726.0,2271.5 L1732.0,2271.7 L1738.0,2272.0 L1739.0,2272.0" fill="none" stroke="#8000ff" stroke-width="7.5" stroke-linejoin="round"/>
<line x1="241.1" y1="1555" x2="1736" y2="1555" stroke="#000" stroke-width="4" stroke-dasharray="14.8 14.62"/>
<text x="198.0" y="2469.8" font-size="56.0" text-anchor="end" font-weight="normal">20</text>
<text x="198.0" y="2200.5" font-size="56.0" text-anchor="end" font-weight="normal">30</text>
<text x="198.0" y="1931.2" font-size="56.0" text-anchor="end" font-weight="normal">40</text>
<text x="198.0" y="1661.8" font-size="56.0" text-anchor="end" font-weight="normal">50</text>
<text x="198.0" y="1392.5" font-size="56.0" text-anchor="end" font-weight="normal">60</text>
<text x="238.5" y="2671.0" font-size="56.0" text-anchor="middle" font-weight="normal">1</text>
<text x="613.6" y="2671.0" font-size="56.0" text-anchor="middle" font-weight="normal">2</text>
<text x="988.8" y="2671.0" font-size="56.0" text-anchor="middle" font-weight="normal">3</text>
<text x="1363.9" y="2671.0" font-size="56.0" text-anchor="middle" font-weight="normal">4</text>
<text x="1739.0" y="2671.0" font-size="56.0" text-anchor="middle" font-weight="normal">5</text>
<text x="62.0" y="1432.0" font-size="66.0" text-anchor="start" font-weight="bold">b</text>
<text x="989.3" y="2771.0" font-size="55.8" text-anchor="middle" font-weight="normal">Time (h)</text>
<text transform="translate(89,2052) rotate(-90)" font-size="65">Y H<tspan font-size="38" dy="24">2</tspan><tspan dy="-24"> (%)</tspan></text>
<text x="1233" y="1514.3" font-size="56.2">equilibrium H<tspan font-size="32.5" dy="22">2</tspan><tspan dy="-22"> yield</tspan></text>
<text x="1461.2" y="1665.8" font-size="56.0">Ni/CeO<tspan font-size="33.5" dy="22.8">2</tspan><tspan dy="-22.8">-m</tspan></text>
<text x="1317.4" y="1957.0" font-size="56.0">Ni/CeO<tspan font-size="33.5" dy="22.8">2</tspan><tspan dy="-22.8">-SBA-15</tspan></text>
<text x="1524.8" y="2333.3" font-size="56.0">Ni/CeO<tspan font-size="33.5" dy="22.8">2</tspan></text>
</svg>
</body></html>
